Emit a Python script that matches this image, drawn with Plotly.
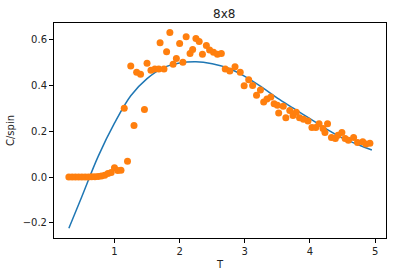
import plotly.graph_objects as go

# scatter data (T, C/spin)
T_pts = [0.30, 0.35, 0.40, 0.45, 0.50, 0.55, 0.60, 0.65, 0.70, 0.75, 0.80, 0.85, 0.90, 0.95,
         1.00, 1.05, 1.10, 1.15, 1.20, 1.25, 1.30, 1.34, 1.40, 1.46, 1.50, 1.56, 1.62, 1.68,
         1.70, 1.76, 1.80, 1.85, 1.90, 1.95, 2.00, 2.05, 2.10, 2.16, 2.20, 2.25, 2.30, 2.35,
         2.41, 2.46, 2.52, 2.58, 2.64, 2.70, 2.77, 2.85, 2.93, 2.99, 3.06, 3.12, 3.18, 3.24,
         3.29, 3.34, 3.40, 3.45, 3.50, 3.52, 3.59, 3.63, 3.69, 3.74, 3.79, 3.84, 3.90, 3.97,
         4.03, 4.09, 4.14, 4.20, 4.23, 4.27, 4.33, 4.39, 4.43, 4.49, 4.54, 4.59, 4.67, 4.73,
         4.81, 4.86, 4.92]
C_pts = [0.0, 0.0, 0.0, 0.0, 0.0, 0.0, 0.0, 0.001, 0.001, 0.002, 0.004, 0.008, 0.015, 0.02,
         0.04, 0.028, 0.03, 0.30, 0.069, 0.485, 0.225, 0.458, 0.449, 0.295, 0.497, 0.467, 0.472, 0.472,
         0.587, 0.472, 0.547, 0.631, 0.493, 0.518, 0.583, 0.501, 0.613, 0.540, 0.557, 0.605, 0.592, 0.536,
         0.575, 0.555, 0.545, 0.536, 0.540, 0.472, 0.463, 0.482, 0.458, 0.399, 0.425, 0.400, 0.357, 0.380,
         0.328, 0.341, 0.350, 0.320, 0.314, 0.280, 0.309, 0.259, 0.291, 0.269, 0.283, 0.259, 0.252, 0.245,
         0.216, 0.216, 0.233, 0.212, 0.194, 0.233, 0.173, 0.168, 0.183, 0.194, 0.168, 0.161, 0.173, 0.151,
         0.154, 0.144, 0.148]

# fitted curve samples
T_fit = [0.30, 0.50, 0.75, 1.00, 1.25, 1.50, 1.75, 2.00, 2.25, 2.50, 2.75, 3.00, 3.25, 3.50,
         3.75, 4.00, 4.25, 4.50, 4.75, 4.95]
C_fit = [-0.224, -0.085, 0.090, 0.235, 0.355, 0.430, 0.477, 0.498, 0.504, 0.495, 0.475, 0.440,
         0.395, 0.345, 0.300, 0.255, 0.210, 0.170, 0.140, 0.118]

fig = go.Figure()
fig.add_trace(go.Scatter(x=T_fit, y=C_fit, mode="lines", line=dict(color="#1f77b4", width=1.5, shape="spline"),
                         showlegend=False))
fig.add_trace(go.Scatter(x=T_pts, y=C_pts, mode="markers", marker=dict(color="#ff7f0e", size=7),
                         showlegend=False))

axis_common = dict(showline=True, linecolor="black", linewidth=1, mirror=True, ticks="outside",
                   ticklen=4, tickcolor="black", showgrid=False, zeroline=False,
                   tickfont=dict(family="DejaVu Sans", size=10, color="#222"))
fig.update_layout(
    width=397, height=278,
    margin=dict(l=52, r=10, t=23, b=38),
    plot_bgcolor="white", paper_bgcolor="white",
    font=dict(family="DejaVu Sans", size=10, color="#222"),
    title=dict(text="8x8", x=0.565, xanchor="center", y=0.95, yanchor="middle",
               font=dict(family="DejaVu Sans", size=12, color="#222")),
    xaxis=dict(range=[0.072, 5.167], dtick=1, tick0=0,
               title=dict(text="T", standoff=4, font=dict(size=10)), **axis_common),
    yaxis=dict(range=[-0.2665, 0.673], dtick=0.2, tick0=0, tickformat=".1f",
               title=dict(text="C/spin", standoff=6, font=dict(size=10)), **axis_common),
)
fig.write_html("out.html")
